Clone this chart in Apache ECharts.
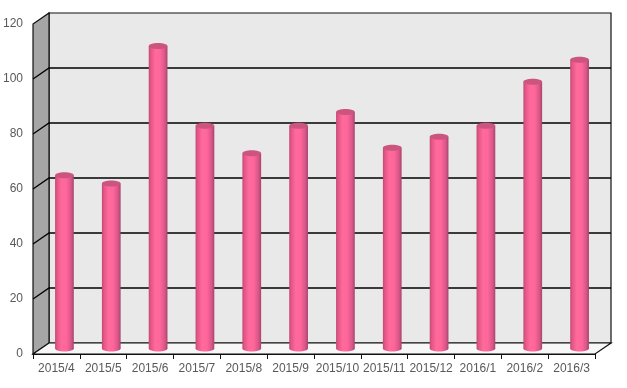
<!DOCTYPE html>
<html>
<head>
<meta charset="utf-8">
<script src="https://cdn.jsdelivr.net/npm/echarts@6/dist/echarts.min.js"></script>
<style>html,body{margin:0;padding:0;background:#fff;}#c{width:627px;height:388px;}</style>
</head>
<body>
<div id="c"></div>
<script>
var categories = ['2015/4','2015/5','2015/6','2015/7','2015/8','2015/9','2015/10','2015/11','2015/12','2016/1','2016/2','2016/3'];
var values = [63, 60, 110, 81, 71, 81, 86, 73, 77, 81, 97, 105];
var yTicks = [0, 20, 40, 60, 80, 100, 120];

var DX = 16, DY = -11;
var chart = echarts.init(document.getElementById('c'));
var FONT = 'Liberation Sans';

function wallsItem(params, api) {
  var cs = params.coordSys;
  var x0 = cs.x, x1 = cs.x + cs.width;
  var yb = api.coord([0, 0])[1];
  var yt = api.coord([0, yTicks[yTicks.length - 1]])[1];
  var children = [];
  var lineStyle = {stroke: '#000000', lineWidth: 1.3, fill: null};
  children.push({type: 'polygon', shape: {points: [[x0+DX, yt+DY],[x1+DX, yt+DY],[x1+DX, yb+DY],[x0+DX, yb+DY]]},
    style: {fill: '#e9e9e9', stroke: '#111111', lineWidth: 1.2}});
  children.push({type: 'polygon', shape: {points: [[x0, yt],[x0+DX, yt+DY],[x0+DX, yb+DY],[x0, yb]]},
    style: {fill: '#a6a6a6', stroke: '#111111', lineWidth: 1.2}});
  children.push({type: 'polygon', shape: {points: [[x0, yb],[x0+DX, yb+DY],[x1+DX, yb+DY],[x1, yb]]},
    style: {fill: '#f7f7f7', stroke: '#111111', lineWidth: 1.2}});
  for (var i = 1; i < yTicks.length - 1; i++) {
    var y = api.coord([0, yTicks[i]])[1];
    children.push({type: 'polyline', shape: {points: [[x0, y],[x0+DX, y+DY],[x1+DX, y+DY]]}, style: lineStyle});
  }
  return {type: 'group', children: children};
}

function barItem(params, api) {
  var idx = api.value(0);
  var top = api.coord([idx, api.value(1)]);
  var bot = api.coord([idx, 0]);
  var w = api.size([1, 0])[0] * 0.4;
  var cx = top[0] + DX / 2, ty = top[1] + DY / 2, by = bot[1] + DY / 2;
  var ry = 3;
  var grad = new echarts.graphic.LinearGradient(0, 0, 1, 0, [
    {offset: 0, color: '#c24a74'},
    {offset: 0.12, color: '#e65688'},
    {offset: 0.35, color: '#ff6a9c'},
    {offset: 0.6, color: '#ff6699'},
    {offset: 0.85, color: '#d9578a'},
    {offset: 1, color: '#a8446a'}
  ]);
  return {type: 'group', children: [
    {type: 'ellipse', shape: {cx: cx, cy: by, rx: w / 2, ry: ry}, style: {fill: grad}},
    {type: 'rect', shape: {x: cx - w / 2, y: ty, width: w, height: by - ty}, style: {fill: grad}},
    {type: 'ellipse', shape: {cx: cx, cy: ty, rx: w / 2, ry: ry}, style: {fill: '#cc5580'}}
  ]};
}

var barData = values.map(function (v, i) { return [i, v]; });

chart.setOption({
  animation: false,
  backgroundColor: '#ffffff',
  grid: {left: 32, right: 32, top: 24, bottom: 34},
  xAxis: {
    type: 'category', data: categories,
    axisLine: {show: true, lineStyle: {color: '#111111', width: 1.2}},
    axisTick: {show: true, length: 5, lineStyle: {color: '#111111'}},
    axisLabel: {color: '#595959', fontFamily: FONT, fontSize: 12, margin: 9, interval: 0},
    splitLine: {show: false}
  },
  yAxis: {
    type: 'value', min: 0, max: 120, interval: 20,
    axisLine: {show: false}, axisTick: {show: false},
    axisLabel: {color: '#595959', fontFamily: FONT, fontSize: 12, margin: 10},
    splitLine: {show: false}
  },
  series: [
    {type: 'custom', z: 1, silent: true, data: [[0, 0]], renderItem: wallsItem, clip: false},
    {type: 'custom', z: 3, data: barData, renderItem: barItem, encode: {x: 0, y: 1}, clip: false}
  ]
});
</script>
</body>
</html>
